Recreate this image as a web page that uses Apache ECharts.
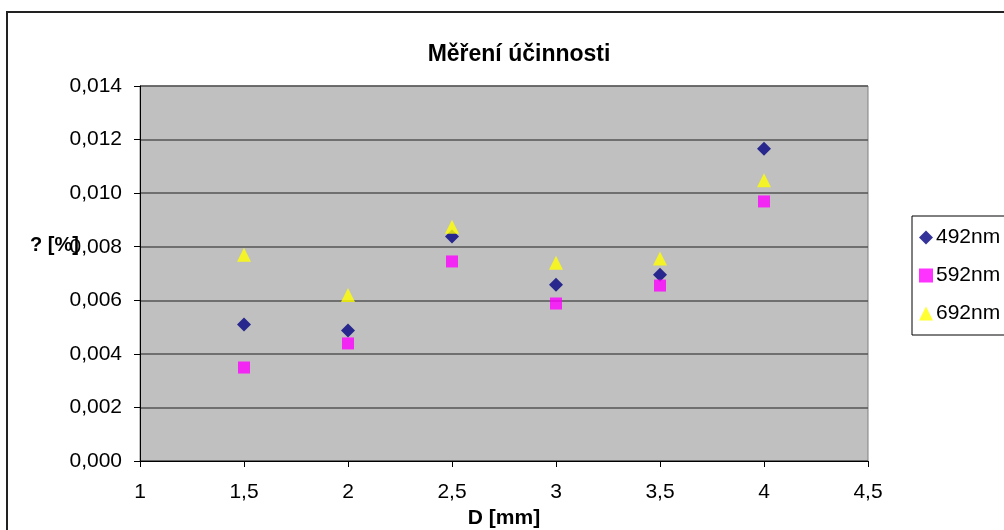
<!DOCTYPE html>
<html>
<head>
<meta charset="utf-8">
<style>
  html, body { margin: 0; padding: 0; background: #ffffff; }
  #chart { width: 1004px; height: 530px; }
</style>
<script src="https://cdn.jsdelivr.net/npm/echarts@6/dist/echarts.min.js"></script>
</head>
<body>
<div id="chart"></div>
<script>
// Diameter D [mm] at which efficiency was measured
const diameters = [1.5, 2, 2.5, 3, 3.5, 4];
// Efficiency [%] per wavelength
const eff492 = [0.0051, 0.00487, 0.00838, 0.00658, 0.00695, 0.01166];
const eff592 = [0.00349, 0.00439, 0.00745, 0.00588, 0.00655, 0.00969];
const eff692 = [0.0077, 0.0062, 0.00875, 0.0074, 0.00756, 0.01048];
const seriesNames = ['492nm', '592nm', '692nm'];

const FONT = '"Liberation Sans", Arial, sans-serif';
const comma = v => String(v).replace('.', ',');

const pairs = ys => diameters.map((d, i) => [d, ys[i]]);

const chart = echarts.init(document.getElementById('chart'));
chart.setOption({
  animation: false,
  backgroundColor: '#ffffff',
  title: {
    text: 'Měření účinnosti',
    left: 514, top: 38, textAlign: 'center',
    textStyle: { fontFamily: FONT, fontWeight: 'bold', fontSize: 23, color: '#000' }
  },
  grid: {
    left: 140, top: 86, right: 136, bottom: 69,
    outerBoundsMode: 'none', containLabel: false,
    show: true, backgroundColor: '#c0c0c0', borderColor: '#808080', borderWidth: 1
  },
  legend: {
    orient: 'vertical', left: 912, top: 216,
    padding: [11, 40, 11, 7],
    itemGap: 17, itemWidth: 14, itemHeight: 14,
    backgroundColor: '#ffffff', borderColor: '#000', borderWidth: 1,
    textStyle: { fontFamily: FONT, fontSize: 21, color: '#000', padding: [0, 0, 0, -2] },
    data: seriesNames
  },
  xAxis: {
    type: 'value', min: 1, max: 4.5, interval: 0.5,
    name: 'D [mm]', nameLocation: 'middle', nameGap: 37,
    nameTextStyle: { fontFamily: FONT, fontWeight: 'bold', fontSize: 21, color: '#000' },
    axisLine: { show: true, onZero: false, lineStyle: { color: '#000', width: 1 } },
    axisTick: { show: true, length: 6, lineStyle: { color: '#000' } },
    splitLine: { show: false },
    axisLabel: { fontFamily: FONT, fontSize: 21, color: '#000', margin: 21, formatter: comma }
  },
  yAxis: {
    type: 'value', min: 0, max: 0.014, interval: 0.002,
    axisLine: { show: true, lineStyle: { color: '#000', width: 1 } },
    axisTick: { show: true, length: 6, lineStyle: { color: '#000' } },
    splitLine: { show: true, lineStyle: { color: '#555555', width: 1.5 } },
    axisLabel: { fontFamily: FONT, fontSize: 21, color: '#000', margin: 18,
      formatter: v => v.toFixed(3).replace('.', ',') }
  },
  graphic: [
    { type: 'rect', shape: { x: 7, y: 12, width: 1100, height: 600 },
      style: { fill: 'none', stroke: '#222', lineWidth: 2 }, z: -1, silent: true },
    { type: 'text', left: 30, top: 235,
      style: { text: '? [%]', font: 'bold 20px "Liberation Sans", Arial, sans-serif', fill: '#000' }, z: 100 }
  ],
  series: [
    { name: seriesNames[0], type: 'scatter', symbol: 'diamond', symbolSize: 14,
      itemStyle: { color: '#000080' }, data: pairs(eff492) },
    { name: seriesNames[1], type: 'scatter', symbol: 'rect', symbolSize: 12,
      itemStyle: { color: '#ff00ff' }, data: pairs(eff592) },
    { name: seriesNames[2], type: 'scatter', symbol: 'triangle', symbolSize: 14,
      itemStyle: { color: '#ffff00' }, data: pairs(eff692) }
  ]
});
</script>
</body>
</html>
